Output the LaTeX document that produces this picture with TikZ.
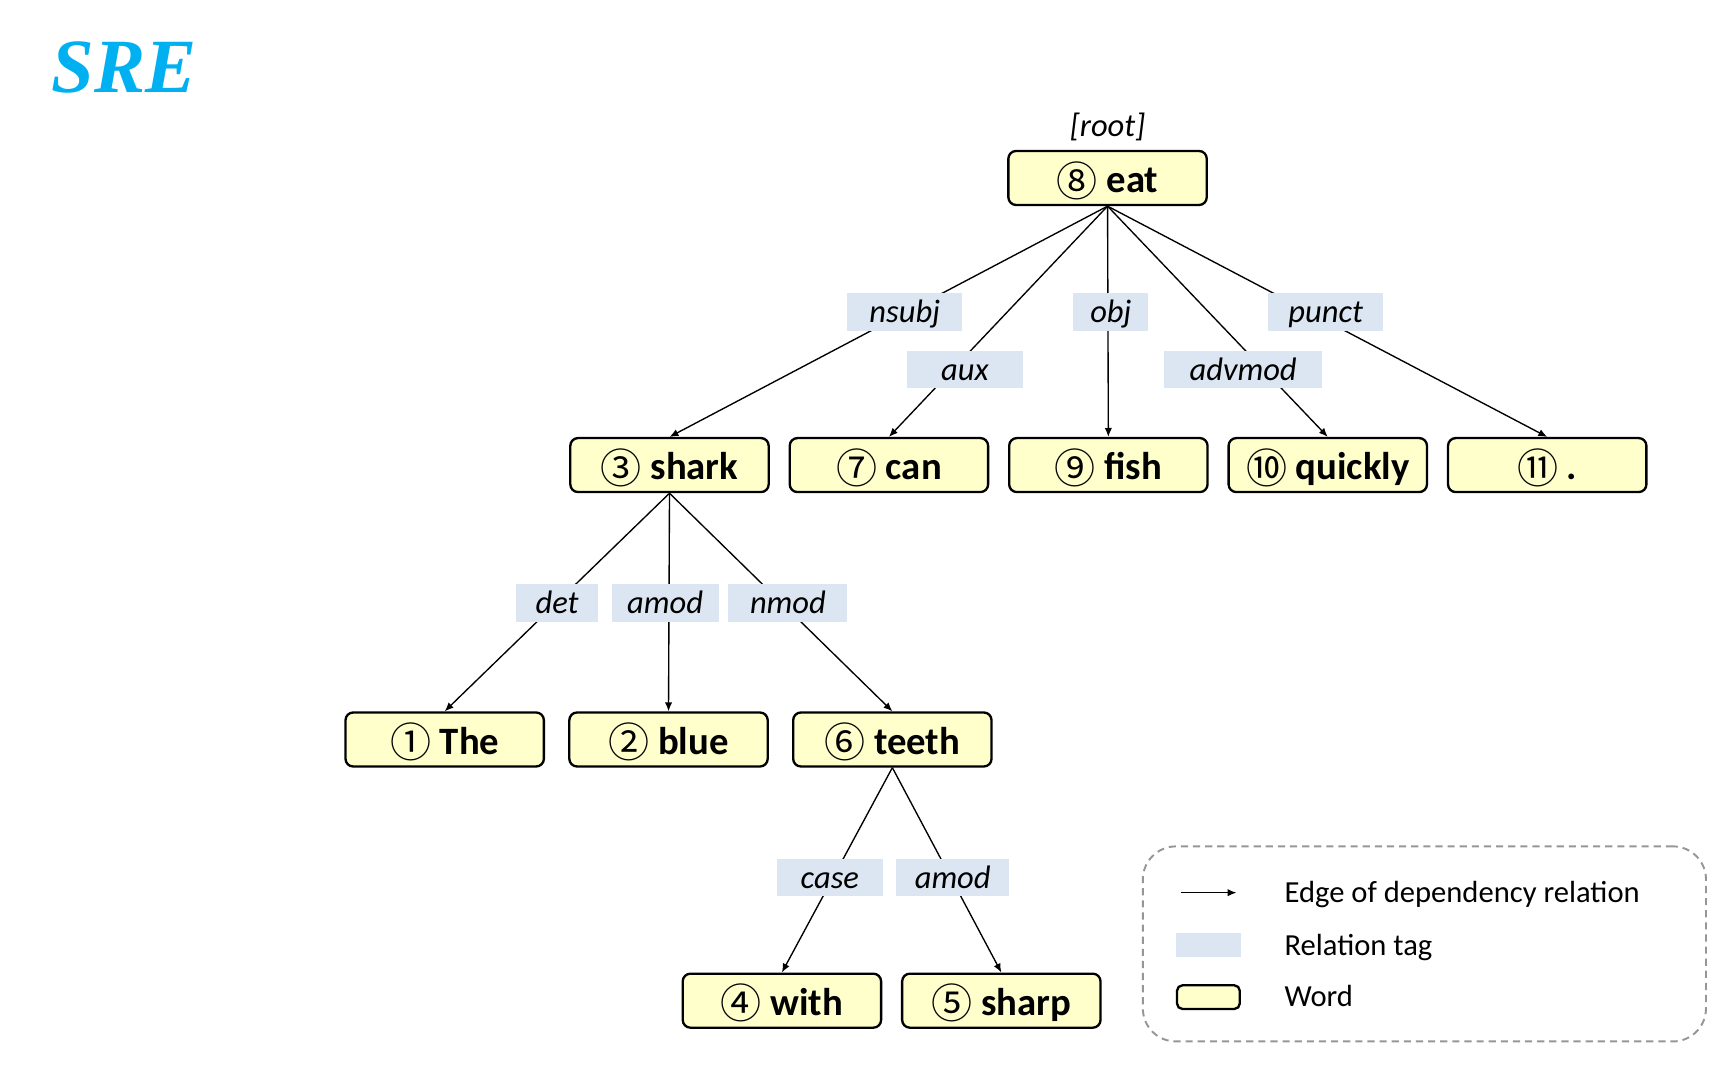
\documentclass[tikz,border=0pt]{standalone}
\usepackage{fontspec}
\setmainfont{Carlito}
\newfontfamily\circfont{Noto Sans CJK SC}
\newfontfamily\titlefont{Liberation Serif}
\usepackage{tikz}
\usetikzlibrary{chains,positioning,arrows.meta}

\definecolor{wordyellow}{RGB}{255,255,204}
\definecolor{tagblue}{RGB}{220,230,242}
\definecolor{sreblue}{RGB}{0,176,240}
\definecolor{legendgray}{RGB}{150,150,150}

\newcommand*{\cnum}[1]{\raisebox{-0.03cm}{\circfont\mdseries\fontsize{10.6}{12}\selectfont #1}}

\begin{document}
\begin{tikzpicture}
		\tikzstyle{every path}=[line width=0.35pt]
		\tikzstyle{DepSty}=[-{Latex[length=2.3pt,width=1.9pt]}]
		\tikzstyle{word}=[draw,
								fill=wordyellow,
								line width=0.6pt,
								rounded corners=0.7mm,
								minimum width=1.80cm,
								minimum height=0.49cm,
								inner sep=0pt,
								text height=0.32cm,
								text depth=0.05cm,
								font=\fontsize{10}{12}\selectfont\bfseries]
		\tikzstyle{reltag}=[fill=tagblue,
								minimum height=0.34cm,
								inner sep=0pt,
								text height=0.25cm,
								text depth=0.05cm,
								font=\fontsize{8.4}{10}\selectfont\itshape]
		\tikzstyle{legtext}=[anchor=base west,inner sep=0pt,
								font=\fontsize{7.9}{9}\selectfont]
		\tikzstyle{legbox}=[draw=legendgray,
								dash pattern=on 0.065cm off 0.045cm,
								line width=0.5pt,
								rounded corners=0.3cm]

	\useasboundingbox (0,0) rectangle (15.68,9.80);

	% Title
	\node[text=sreblue,font=\titlefont\fontsize{19.8}{22}\selectfont\bfseries\itshape] at (1.125,9.19) (title) {SRE};

	% Root word
	\node [word] at (10.05,8.185) (eat) {\cnum{⑧} eat};
	\node [font=\fontsize{8.4}{10}\selectfont\itshape] at (10.05,8.65) (root) {[root]};

	% Dependents of eat
\begin{scope}[start chain=1 going right,node distance=0.17cm]

	\node [on chain=1,word] at (6.075,5.58) (shark) {\cnum{③} shark};
	\node [on chain=1,word] (can) {\cnum{⑦} can};
	\node [on chain=1,word] (fish) {\cnum{⑨} fish};
	\node [on chain=1,word] (quickly) {\cnum{⑩} quickly};
	\node [on chain=1,word] (dot) {\cnum{⑪} .};

\end{scope}

	% Dependents of shark
\begin{scope}[start chain=2 going right,node distance=0.21cm]

	\node [on chain=2,word] at (4.035,3.09) (the) {\cnum{①} The};
	\node [on chain=2,word] (blue) {\cnum{②} blue};
	\node [on chain=2,word] (teeth) {\cnum{⑥} teeth};

\end{scope}

	% Dependents of teeth
\begin{scope}[start chain=3 going right,node distance=0.17cm]

	\node [on chain=3,word] at (7.095,0.72) (with) {\cnum{④} with};
	\node [on chain=3,word] (sharp) {\cnum{⑤} sharp};

\end{scope}

	\path[DepSty] (eat.south) edge (shark.north);
	\path[DepSty] (eat.south) edge (can.north);
	\path[DepSty] (eat.south) edge (fish.north);
	\path[DepSty] (eat.south) edge (quickly.north);
	\path[DepSty] (eat.south) edge (dot.north);
	\path[DepSty] (shark.south) edge (the.north);
	\path[DepSty] (shark.south) edge (blue.north);
	\path[DepSty] (shark.south) edge (teeth.north);
	\path[DepSty] (teeth.south) edge (with.north);
	\path[DepSty] (teeth.south) edge (sharp.north);

	% Relation tags
	\node [reltag,minimum width=1.04cm] at (8.21,6.97) (tnsubj) {nsubj};
	\node [reltag,minimum width=0.68cm] at (10.08,6.97) (tobj) {obj};
	\node [reltag,minimum width=1.04cm] at (12.03,6.97) (tpunct) {punct};
	\node [reltag,minimum width=1.05cm] at (8.755,6.445) (taux) {aux};
	\node [reltag,minimum width=1.44cm] at (11.28,6.445) (tadvmod) {advmod};
	\node [reltag,minimum width=0.75cm] at (5.055,4.33) (tdet) {det};
	\node [reltag,minimum width=0.97cm] at (6.035,4.33) (tamod) {amod};
	\node [reltag,minimum width=1.08cm] at (7.15,4.33) (tnmod) {nmod};
	\node [reltag,minimum width=0.96cm] at (7.53,1.84) (tcase) {case};
	\node [reltag,minimum width=1.03cm] at (8.645,1.84) (tamodb) {amod};

	% Legend
	\node [legbox,minimum width=5.11cm,minimum height=1.77cm] at (12.925,1.235) (legend) {};
	\coordinate (legA) at (10.72,1.70);
	\coordinate (legB) at (11.22,1.70);
	\draw[DepSty] (legA) -- (legB);
	\node [legtext] at (11.65,1.61) (legedge) {Edge of dependency relation};
	\node [reltag,minimum width=0.59cm,minimum height=0.21cm,text height=0pt,text depth=0pt] at (10.965,1.225) (legtag) {};
	\node [legtext] at (11.65,1.134) (legrel) {Relation tag};
	\node [word,minimum width=0.57cm,minimum height=0.215cm,rounded corners=0.5mm,text height=0pt,text depth=0pt] at (10.965,0.752) (legword) {};
	\node [legtext] at (11.65,0.665) (legwd) {Word};

\end{tikzpicture}
\end{document}
